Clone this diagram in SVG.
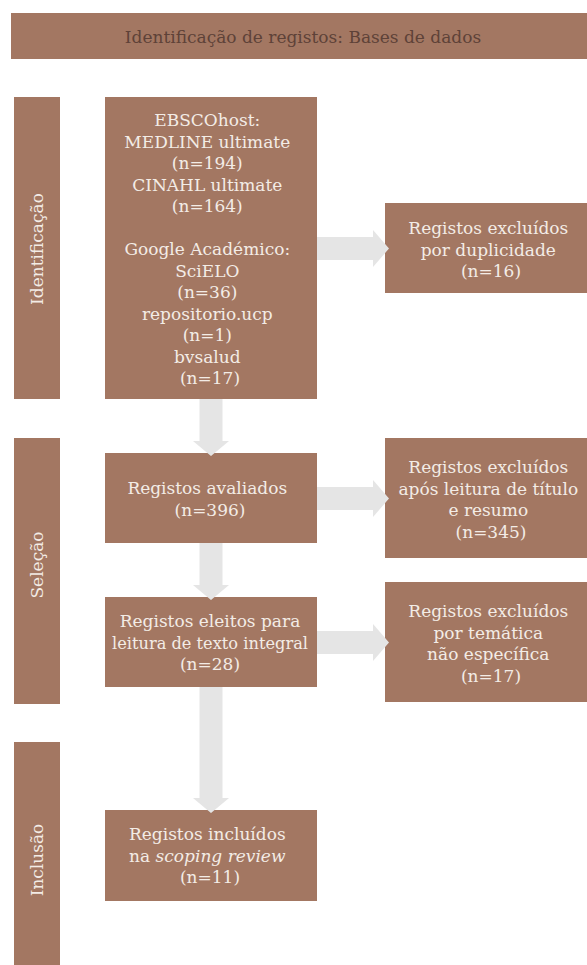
<svg xmlns="http://www.w3.org/2000/svg" width="587" height="965" viewBox="0 0 587 965" font-family="'DejaVu Serif', serif">
<style>
.box{fill:#a37762}
.t{font-family:"DejaVu Serif",serif;font-size:17px;fill:#f3ece6;text-anchor:middle}
.hd{fill:#5e4238}
.arr{fill:#e5e5e5}
</style>
<rect width="587" height="965" fill="#ffffff"/>
<g id="banner">
<rect class="box" x="11" y="13" width="586" height="46"/>
<text class="t hd" x="303" y="43">Identificação de registos: Bases de dados</text>
</g>
<g id="stage-identificacao">
<rect class="box" x="14" y="97" width="46" height="302"/>
<text class="t" transform="translate(43,249) rotate(-90)">Identificação</text>
</g>
<g id="stage-selecao">
<rect class="box" x="14" y="438" width="46" height="266"/>
<text class="t" transform="translate(43,565) rotate(-90)">Seleção</text>
</g>
<g id="stage-inclusao">
<rect class="box" x="14" y="742" width="46" height="223"/>
<text class="t" transform="translate(43,860) rotate(-90)">Inclusão</text>
</g>
<g id="databases">
<rect class="box" x="105" y="97" width="212" height="302"/>
<text class="t" x="210">
<tspan x="210" y="126">EBSCOhost:</tspan>
<tspan x="210" y="147.5">MEDLINE ultimate</tspan>
<tspan x="210" y="169">(n=194)</tspan>
<tspan x="210" y="190.5">CINAHL ultimate</tspan>
<tspan x="210" y="212">(n=164)</tspan>
<tspan x="210" y="255">Google Académico:</tspan>
<tspan x="210" y="276.5">SciELO</tspan>
<tspan x="210" y="298">(n=36)</tspan>
<tspan x="210" y="319.5">repositorio.ucp</tspan>
<tspan x="210" y="341">(n=1)</tspan>
<tspan x="210" y="362.5">bvsalud</tspan>
<tspan x="210" y="384">(n=17)</tspan>
</text>
</g>
<g id="excl-duplicates">
<rect class="box" x="385" y="203" width="212" height="90"/>
<text class="t">
<tspan x="491" y="234">Registos excluídos</tspan>
<tspan x="491" y="255.5">por duplicidade</tspan>
<tspan x="491" y="277">(n=16)</tspan>
</text>
</g>
<g id="assessed">
<rect class="box" x="105" y="453" width="212" height="90"/>
<text class="t">
<tspan x="210" y="494">Registos avaliados</tspan>
<tspan x="210" y="515.5">(n=396)</tspan>
</text>
</g>
<g id="excl-title">
<rect class="box" x="385" y="438" width="212" height="120"/>
<text class="t">
<tspan x="491" y="473">Registos excluídos</tspan>
<tspan x="491" y="494.5">após leitura de título</tspan>
<tspan x="491" y="516">e resumo</tspan>
<tspan x="491" y="537.5">(n=345)</tspan>
</text>
</g>
<g id="eligible">
<rect class="box" x="105" y="597" width="212" height="90"/>
<text class="t" x="210" y="627">Registos eleitos para</text>
<text class="t" x="210" y="648.5" textLength="196" lengthAdjust="spacingAndGlyphs">leitura de texto integral</text>
<text class="t" x="210" y="670">(n=28)</text>
</g>
<g id="excl-theme">
<rect class="box" x="385" y="582" width="212" height="120"/>
<text class="t">
<tspan x="491" y="617">Registos excluídos</tspan>
<tspan x="491" y="638.5">por temática</tspan>
<tspan x="491" y="660">não específica</tspan>
<tspan x="491" y="681.5">(n=17)</tspan>
</text>
</g>
<g id="included">
<rect class="box" x="105" y="810" width="212" height="91"/>
<text class="t">
<tspan x="210" y="840">Registos incluídos</tspan>
<tspan x="210" y="861.5">na <tspan font-style="italic">scoping review</tspan></tspan>
<tspan x="210" y="883">(n=11)</tspan>
</text>
</g>
<g id="connectors">
<polygon class="arr" points="317,237 373,237 373,230 389,248.5 373,267 373,260 317,260"/>
<polygon class="arr" points="317,487 373,487 373,480 389,498.5 373,517 373,510 317,510"/>
<polygon class="arr" points="317,631 373,631 373,624 389,642.5 373,661 373,654 317,654"/>
<polygon class="arr" points="199.5,399 222.5,399 222.5,441 229,441 211,456 193,441 199.5,441"/>
<polygon class="arr" points="199.5,543 222.5,543 222.5,585 229,585 211,600 193,585 199.5,585"/>
<polygon class="arr" points="199.5,687 222.5,687 222.5,798 229,798 211,813 193,798 199.5,798"/>
</g>
</svg>
